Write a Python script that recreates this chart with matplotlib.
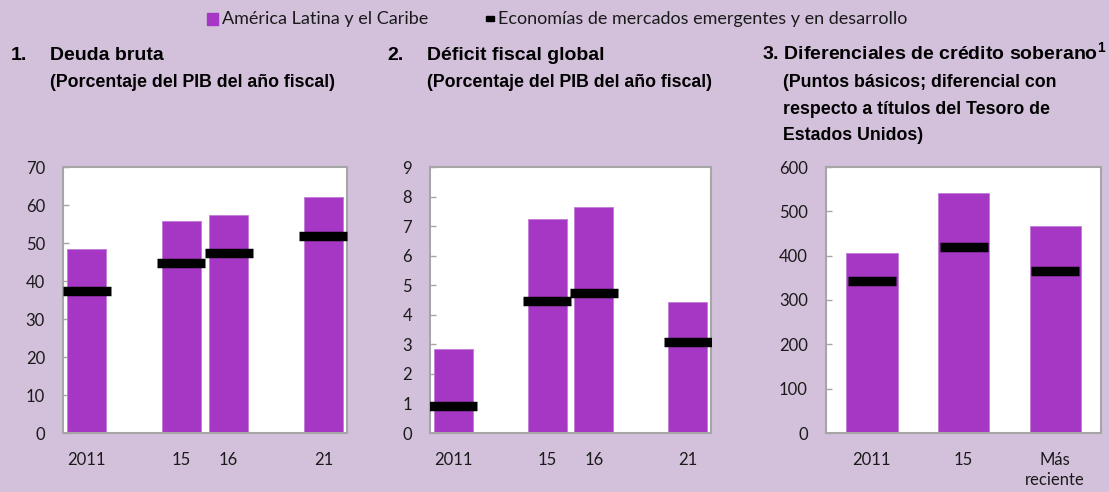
import matplotlib.pyplot as plt
import numpy as np

W, H = 1109, 492
BG = '#D3C1DC'
PURPLE = '#A637C4'
GRIS = '#A6A6A6'

# datos
anios_12 = ['2011', '', '15', '16', '', '21']
deuda_alc = [48.5, np.nan, 55.9, 57.4, np.nan, 62.0]
deuda_emd = [37.4, np.nan, 44.7, 47.3, np.nan, 51.9]
deficit_alc = [2.84, np.nan, 7.24, 7.65, np.nan, 4.43]
deficit_emd = [0.93, np.nan, 4.48, 4.75, np.nan, 3.08]

anios_3 = ['2011', '15', 'Más\nreciente']
spread_alc = [407, 541, 468]
spread_emd = [343, 419, 365]

TITULO = ['Liberation Sans', 'DejaVu Sans']
NORMAL = ['Lato', 'DejaVu Sans']

fig = plt.figure(figsize=(W / 100, H / 100), dpi=100, facecolor=BG)


def ejes(l, r, t, b):
    return fig.add_axes([l / W, (H - b) / H, (r - l) / W, (b - t) / H])


def panel(ax, etiquetas, alc, emd, ymax, paso, ancho):
    x = np.arange(len(etiquetas))
    ax.bar(x, alc, width=ancho, color=PURPLE, edgecolor='#C27AD6', linewidth=0.6, zorder=2)
    ax.plot(x, emd, ls='none', marker='_', ms=34, mew=6.8, color='black', zorder=3)
    ax.set_xlim(-0.5, len(etiquetas) - 0.5)
    ax.set_ylim(0, ymax)
    ax.set_yticks(np.arange(0, ymax + paso / 2, paso))
    ax.set_xticks(x)
    ax.set_xticklabels(etiquetas, linespacing=1.25)
    ax.set_facecolor('white')
    for s in ax.spines.values():
        s.set_color(GRIS)
        s.set_linewidth(1.5)
    ax.tick_params(axis='y', direction='in', length=4, width=1, color=GRIS, pad=13)
    ax.tick_params(axis='x', length=0, pad=14)
    for lab in ax.get_xticklabels() + ax.get_yticklabels():
        lab.set_family(NORMAL)
        lab.set_fontsize(12)
        lab.set_color('#1a1a1a')


ax1 = ejes(63, 347, 167, 433)
panel(ax1, anios_12, deuda_alc, deuda_emd, 70, 10, 0.83)
ax2 = ejes(430, 711, 167, 433)
panel(ax2, anios_12, deficit_alc, deficit_emd, 9, 1, 0.83)
ax3 = ejes(826, 1101, 167, 433)
panel(ax3, anios_3, spread_alc, spread_emd, 600, 100, 0.56)


def texto(x, y, s, **kw):
    fig.text(x / W, 1 - y / H, s, **kw)


# leyenda
fig.patches.append(plt.Rectangle((207 / W, 1 - 25 / H), 11 / W, 12 / H,
                                 transform=fig.transFigure, color=PURPLE))
texto(222, 24, 'América Latina y el Caribe', family=NORMAL, fontsize=13,
      va='baseline', color='#1a1a1a')
fig.patches.append(plt.Rectangle((486 / W, 1 - 21 / H), 8 / W, 5 / H,
                                 transform=fig.transFigure, color='black'))
texto(498, 24, 'Economías de mercados emergentes y en desarrollo', family=NORMAL,
      fontsize=13, va='baseline', color='#1a1a1a')

# títulos
tk = dict(family=TITULO, fontsize=14, weight='bold', va='baseline', color='black')
sk = dict(tk, fontsize=12.8)
texto(11, 60, '1.', **tk)
texto(50, 60, 'Deuda bruta', **tk)
texto(50, 87, '(Porcentaje del PIB del año fiscal)', **sk)
texto(387, 60, '2.', **tk)
texto(427, 60, 'Déficit fiscal global', **tk)
texto(427, 87, '(Porcentaje del PIB del año fiscal)', **sk)
texto(762, 60, '3. Diferenciales de crédito soberano$^{\\mathregular{1}}$', **tk)
texto(783, 87, '(Puntos básicos; diferencial con', **sk)
texto(783, 114, 'respecto a títulos del Tesoro de', **sk)
texto(783, 140, 'Estados Unidos)', **sk)

fig.savefig('out.png', dpi=100, facecolor=BG)
